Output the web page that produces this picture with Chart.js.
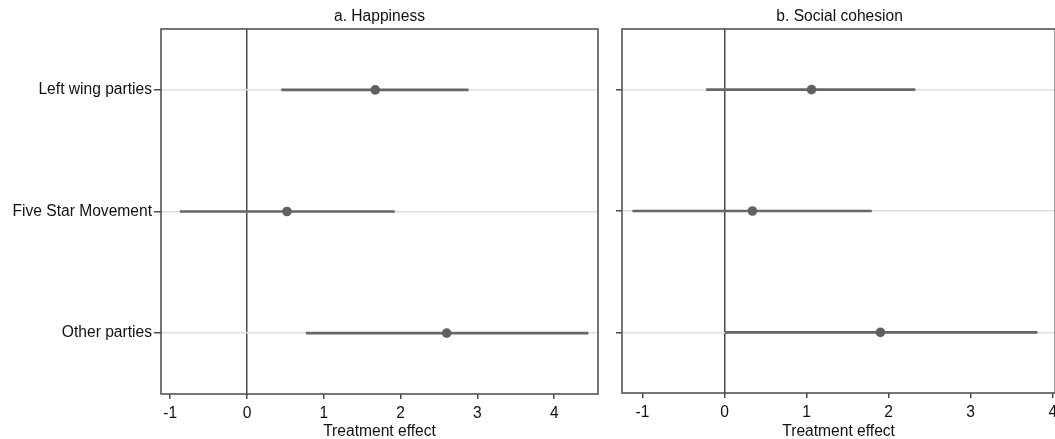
<!DOCTYPE html>
<html>
<head>
<meta charset="utf-8">
<script src="https://cdn.jsdelivr.net/npm/chart.js@4"></script>
<style>
  html, body { margin: 0; padding: 0; background: #ffffff; }
  #wrap { position: relative; width: 1055px; height: 439px; overflow: hidden; }
  canvas { position: absolute; top: 0; }
  #happy { left: 0; }
  #cohesion { left: 606px; }
</style>
</head>
<body>
<div id="wrap">
  <canvas id="happy" width="606" height="439"></canvas>
  <canvas id="cohesion" width="454" height="439"></canvas>
</div>
<script>
// Party groups (rows, top to bottom)
const categories = ['Left wing parties', 'Five Star Movement', 'Other parties'];

// Panel a: Happiness — point estimate and confidence interval bounds
const happinessEst  = [1.67, 0.52, 2.60];
const happinessLow  = [0.45, -0.87, 0.77];
const happinessHigh = [2.88, 1.92, 4.44];

// Panel b: Social cohesion
const cohesionEst  = [1.06, 0.34, 1.90];
const cohesionLow  = [-0.22, -1.12, 0.00];
const cohesionHigh = [2.32, 1.79, 3.81];

// Horizontal axis ticks
const xTicks = [-1, 0, 1, 2, 3, 4];

const FONT = '"Liberation Sans", Arial, Helvetica, sans-serif';
const FSIZE = 15.6;
const INK = '#4a4a4a';
const MARK = '#606060';

// Frame around the plot area plus the panel heading
const panelFrame = {
  id: 'panelFrame',
  afterDraw(chart, args, opts) {
    const { ctx, chartArea: a } = chart;
    ctx.save();
    ctx.strokeStyle = INK;
    ctx.lineWidth = 1.5;
    ctx.strokeRect(a.left, a.top, a.right - a.left, a.bottom - a.top);
    ctx.fillStyle = '#111111';
    ctx.font = FSIZE + 'px ' + FONT;
    ctx.textAlign = 'center';
    ctx.textBaseline = 'middle';
    ctx.fillText(opts.text, (a.left + a.right) / 2 + (opts.shift || 0), 17);
    ctx.restore();
  }
};

function buildPanel(canvasId, title, est, low, high, cfg) {
  const intervals = low.map((lo, i) => [lo, high[i]]);
  const points = est.map((v, i) => ({ x: v, y: categories[i] }));
  return new Chart(document.getElementById(canvasId), {
    type: 'bar',
    data: {
      labels: categories,
      datasets: [
        {
          type: 'bar',
          data: intervals,
          backgroundColor: '#676767',
          borderWidth: 0,
          barThickness: 2,
          order: 2
        },
        {
          type: 'scatter',
          data: points,
          backgroundColor: MARK,
          borderWidth: 0,
          pointRadius: 4.8,
          order: 1
        }
      ]
    },
    options: {
      indexAxis: 'y',
      responsive: false,
      animation: false,
      events: [],
      layout: { padding: { top: 29, right: cfg.padRight, left: 0, bottom: 0 } },
      plugins: {
        legend: { display: false },
        tooltip: { enabled: false },
        title: { display: false },
        panelFrame: { text: title, shift: cfg.titleShift || 0 }
      },
      scales: {
        x: {
          type: 'linear',
          position: 'bottom',
          min: cfg.xMin,
          max: cfg.xMax,
          afterBuildTicks(axis) { axis.ticks = xTicks.map(v => ({ value: v })); },
          afterFit(axis) {
            axis.height = cfg.xHeight;
            axis.paddingLeft = 0;
            axis.paddingRight = 0;
          },
          border: { display: false },
          grid: {
            drawOnChartArea: true,
            color: ctx => (ctx.tick && ctx.tick.value === 0 ? INK : 'rgba(0,0,0,0)'),
            lineWidth: 1.5,
            tickColor: INK,
            tickLength: 5,
            tickWidth: 1.5
          },
          ticks: {
            color: '#111111',
            font: { family: FONT, size: FSIZE },
            padding: 5,
            maxRotation: 0,
            callback: v => String(v)
          },
          title: {
            display: true,
            text: 'Treatment effect',
            color: '#111111',
            font: { family: FONT, size: FSIZE },
            padding: { top: 0, bottom: -2 }
          }
        },
        y: {
          type: 'category',
          labels: categories,
          offset: true,
          afterFit(axis) {
            axis.width = cfg.yWidth;
            axis.paddingTop = 0;
            axis.paddingBottom = 0;
          },
          border: { display: false },
          grid: {
            offset: false,
            color: '#dedede',
            lineWidth: 1.5,
            tickColor: INK,
            tickLength: cfg.yTick,
            tickWidth: 1.5
          },
          ticks: {
            display: cfg.showLabels,
            color: '#111111',
            font: { family: FONT, size: FSIZE },
            padding: 2
          }
        }
      }
    },
    plugins: [panelFrame]
  });
}

buildPanel('happy', 'a. Happiness', happinessEst, happinessLow, happinessHigh, {
  xMin: -1.12, xMax: 4.57, xHeight: 45, yWidth: 161, yTick: 7, padRight: 8, showLabels: true
});

buildPanel('cohesion', 'b. Social cohesion', cohesionEst, cohesionLow, cohesionHigh, {
  xMin: -1.25, xMax: 4.03, xHeight: 46, yWidth: 16, yTick: 6, padRight: 0, showLabels: false, titleShift: 1
});
</script>
</body>
</html>
